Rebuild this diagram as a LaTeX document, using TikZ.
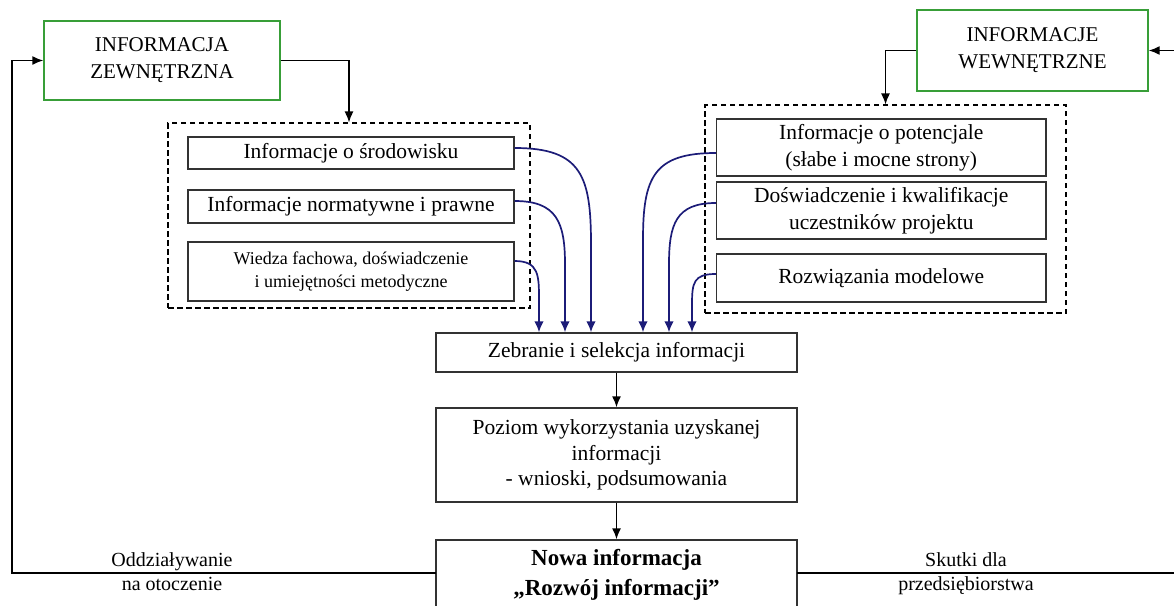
\documentclass[tikz,border=0pt]{standalone}
\usepackage{fontspec}
\setmainfont{Liberation Serif}
\usetikzlibrary{arrows.meta,calc}
\definecolor{grn}{RGB}{56,158,56}
\definecolor{navy}{RGB}{28,28,120}
\definecolor{bord}{RGB}{50,50,50}
\begin{document}
\begin{tikzpicture}[x=1pt,y=-1pt,
  box/.style={draw=bord,line width=1.4pt,inner sep=0pt,align=center,font=\fontsize{21.5}{27}\selectfont},
  gbox/.style={draw=grn,line width=1.4pt,inner sep=0pt,align=center,font=\fontsize{21}{27}\selectfont},
  dbox/.style={draw=black,line width=1.1pt,dash pattern=on 5.5pt off 3.5pt,inner sep=0pt},
  arr/.style={line width=1.4pt,-{Latex[length=11pt,width=9pt]}},
  plain/.style={line width=1.4pt},
  carr/.style={draw=navy,line width=1.7pt,-{Latex[length=11pt,width=9.5pt]}},
  lbl/.style={align=center,font=\fontsize{20}{24}\selectfont,inner sep=0pt}]
\useasboundingbox (0,0) rectangle (1174,605);
\clip (0,0) rectangle (1174,605);

% green source boxes
\node[gbox,minimum width=236pt,minimum height=79pt] (gl) at (162,60.5) {INFORMACJA\\ZEWNĘTRZNA};
\node[gbox,minimum width=231pt,minimum height=81pt] (gr) at (1032.5,50.5) {INFORMACJE\\WEWNĘTRZNE};

% dashed groups
\node[dbox,minimum width=362pt,minimum height=185pt] (dl) at (349,215.5) {};
\node[dbox,minimum width=361pt,minimum height=208pt] (dr) at (885.5,209) {};

% left boxes
\node[box,minimum width=326pt,minimum height=32pt] (b1) at (351,153) {Informacje o środowisku};
\node[box,minimum width=326pt,minimum height=33pt] (b2) at (351,206.5) {Informacje normatywne i prawne};
\node[box,minimum width=326pt,minimum height=59pt,font=\fontsize{18}{23}\selectfont] (b3) at (351,271.5) {Wiedza fachowa, doświadczenie\\i umiejętności metodyczne};

% right boxes
\node[box,minimum width=329.5pt,minimum height=57pt] (r1) at (881.25,147.5) {Informacje o potencjale\\(słabe i mocne strony)};
\node[box,minimum width=329.5pt,minimum height=57pt] (r2) at (881.25,210.5) {Doświadczenie i kwalifikacje\\uczestników projektu};
\node[box,minimum width=329.5pt,minimum height=48pt] (r3) at (881.25,278) {Rozwiązania modelowe};

% central column
\node[box,minimum width=361pt,minimum height=39pt] (zeb) at (616.5,352.5) {Zebranie i selekcja informacji};
\node[box,minimum width=361pt,minimum height=94pt,font=\fontsize{21.5}{25.5}\selectfont] (poz) at (616.5,455) {Poziom wykorzystania uzyskanej\\informacji\\- wnioski, podsumowania};
\node[box,minimum width=361pt,minimum height=70pt,font=\fontsize{23}{30}\selectfont\bfseries] (nowa) at (616.5,575) {Nowa informacja\\„Rozwój informacji”};

% labels
\node[lbl] (lo) at (172,572) {Oddziaływanie\\na otoczenie};
\node[lbl] (ls) at (966,574) {Skutki dla\\przedsiębiorstwa};

% black connectors
\draw[arr] (gl.east) -| (dl.north);
\draw[arr] (gr.west) -| (dr.north);
\coordinate (rin) at (1174,50.5);
\draw[arr] (rin) -- (gr.east);
\coordinate (lfoot) at (436,573);
\coordinate (lcorner) at (12,573);
\draw[arr] (lfoot) -- (lcorner) |- (gl.west);
\coordinate (rfoot) at (797,573);
\coordinate (rend) at (1174,573);
\draw[plain] (rfoot) -- (rend);
\draw[arr] (zeb.south) -- (poz.north);
\draw[arr] (poz.south) -- (nowa.north);

% curved navy connectors
\coordinate (t1) at ($(zeb.north)+(-25.5,0)$);
\coordinate (t2) at ($(zeb.north)+(-51.5,0)$);
\coordinate (t3) at ($(zeb.north)+(-77.5,0)$);
\coordinate (t4) at ($(zeb.north)+(26.5,0)$);
\coordinate (t5) at ($(zeb.north)+(52.5,0)$);
\coordinate (t6) at ($(zeb.north)+(75.5,0)$);

\draw[carr] ([yshift=5pt]b1.east) .. controls +(67,0) and +(0,-68) .. ($(t1)+(0,-88)$) -- (t1);
\draw[carr] ([yshift=5.5pt]b2.east) .. controls +(42,0) and +(0,-42) .. ($(t2)+(0,-68)$) -- (t2);
\draw[carr] ([yshift=10.5pt]b3.east) .. controls +(24,0) and +(0,-24) .. ($(t3)+(0,-33)$) -- (t3);
\draw[carr] ([yshift=-5.5pt]r1.west) .. controls +(-62,0) and +(0,-62) .. ($(t4)+(0,-93)$) -- (t4);
\draw[carr] ([yshift=7.5pt]r2.west) .. controls +(-40,0) and +(0,-40) .. ($(t5)+(0,-68)$) -- (t5);
\draw[carr] ([yshift=4pt]r3.west) .. controls +(-22,0) and +(0,-22) .. ($(t6)+(0,-28)$) -- (t6);
\end{tikzpicture}
\end{document}
